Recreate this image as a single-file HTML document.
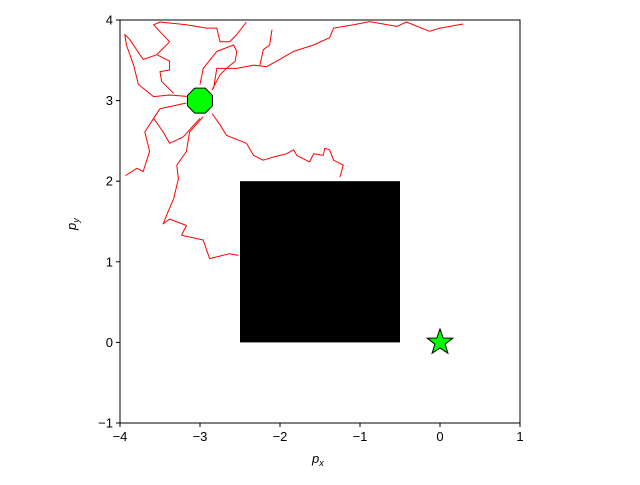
<!DOCTYPE html>
<html><head><meta charset="utf-8"><style>
body{margin:0;background:#fff;}
svg text{font-family:"Liberation Sans",sans-serif;font-size:13px;fill:#000;}
</style></head><body>
<svg id="chart" width="640" height="480"></svg>
<script>
const xTicks=[-4,-3,-2,-1,0,1];
const yTicks=[-1,0,1,2,3,4];
const walkX=[-2.83,-2.79,-2.54,-2.33,-2.17,-2.04,-1.83,-1.58,-1.38,-1.33,-1.08,-0.88,-0.54,-0.42,-0.13,0.0,0.29,null,
-2.25,-2.21,-2.13,-2.10,null,
-2.85,-2.75,-2.67,-2.42,-2.33,-2.21,-2.08,-1.92,-1.83,-1.79,-1.63,-1.58,-1.46,-1.44,-1.38,-1.33,-1.21,-1.25,null,
-2.96,-3.13,-3.17,-3.29,-3.27,-3.33,-3.40,-3.46,-3.38,-3.17,-3.23,-2.96,-2.88,-2.63,-2.52,null,
-3.17,-3.5,-3.58,-3.69,-3.63,-3.71,-3.79,-3.93,null,
-3.58,-3.46,-3.38,-3.21,-3.0,null,
-3.13,-3.38,-3.58,-3.77,-3.83,-3.92,-3.94,-3.88,-3.71,-3.54,-3.38,-3.38,-3.5,-3.48,-3.33,null,
-3.54,-3.5,-3.38,-3.58,-3.5,-3.17,-2.92,-2.79,-2.75,-2.63,-2.54,-2.42,null,
-3.0,-2.96,-2.79,-2.58,-2.54,-2.56,-2.67,-2.75,-2.85];
const walkY=[3.15,3.40,3.40,3.44,3.42,3.49,3.61,3.69,3.78,3.90,3.94,3.98,3.92,3.975,3.86,3.90,3.95,null,
3.44,3.63,3.69,3.88,null,
2.84,2.70,2.57,2.47,2.32,2.26,2.30,2.34,2.39,2.32,2.24,2.34,2.32,2.41,2.39,2.26,2.20,2.05,null,
2.80,2.61,2.37,2.20,2.03,1.78,1.62,1.47,1.53,1.45,1.33,1.27,1.04,1.10,1.08,null,
2.97,2.90,2.78,2.61,2.37,2.12,2.16,2.07,null,
2.78,2.61,2.47,2.55,2.78,null,
3.05,3.07,3.05,3.20,3.44,3.69,3.82,3.76,3.51,3.57,3.49,3.38,3.36,3.24,3.09,null,
3.57,3.61,3.73,3.94,3.975,3.94,3.90,3.90,3.73,3.73,3.82,3.975,null,
3.20,3.40,3.61,3.69,3.61,3.49,3.40,3.32,3.13];
const obstacle=[-2.5,0,-0.5,2]; // x0,y0,x1,y1
const startPt=[-3,3];
const goalPt=[0,0];

const L=120,R=520,T=20,B=423;
const sx=v=>L+(v-(-4))/5*(R-L);
const sy=v=>B-(v-(-1))/5*(B-T);
const NS="http://www.w3.org/2000/svg";
const svg=document.getElementById('chart');
function mk(t,a){const e=document.createElementNS(NS,t);for(const k in a)e.setAttribute(k,a[k]);svg.appendChild(e);return e;}

// walk
let d="",pen=false;
for(let i=0;i<walkX.length;i++){
  if(walkX[i]===null){pen=false;continue;}
  d+=(pen?"L":"M")+sx(walkX[i]).toFixed(1)+" "+sy(walkY[i]).toFixed(1)+" ";pen=true;
}
const w=mk('path',{d:d,fill:'none',stroke:'#ff0000','stroke-width':1,'stroke-linejoin':'round'});



const ob=mk('rect',{x:sx(obstacle[0]),y:sy(obstacle[3]),width:sx(obstacle[2])-sx(obstacle[0]),height:sy(obstacle[1])-sy(obstacle[3]),fill:'#000'});



// octagon start
const cx=sx(startPt[0]),cy=sy(startPt[1]),r=13.5;let op=[];
for(let k=0;k<8;k++){const a=Math.PI/8+k*Math.PI/4;op.push((cx+r*Math.cos(a)).toFixed(1)+","+(cy+r*Math.sin(a)).toFixed(1));}
const oc=mk('polygon',{points:op.join(" "),fill:'#00ff00',stroke:'#000','stroke-width':1});



// star goal
const gx=sx(goalPt[0]),gy=sy(goalPt[1]);let sp=[];
for(let k=0;k<10;k++){const a=-Math.PI/2+k*Math.PI/5;const rr=k%2?5.5:13.5;sp.push((gx+rr*Math.cos(a)).toFixed(1)+","+(gy+rr*Math.sin(a)).toFixed(1));}
const st=mk('polygon',{points:sp.join(" "),fill:'#00ff00',stroke:'#000','stroke-width':1});



// frame
const fr=mk('rect',{x:L,y:T,width:R-L,height:B-T,fill:'none',stroke:'#000','stroke-width':1});



xTicks.forEach(v=>{
  const x=sx(v);
  const tk=mk('line',{x1:x,x2:x,y1:B,y2:B+4,stroke:'#000'});
  
  
  const t=mk('text',{x:x,y:B+18,'text-anchor':'middle'});t.textContent=(v<0?"\u2212"+(-v):v);
  
  
});
yTicks.forEach(v=>{
  const y=sy(v);
  const tk=mk('line',{x1:L-4,x2:L,y1:y,y2:y,stroke:'#000'});
  
  
  const t=mk('text',{x:L-7,y:y+4.5,'text-anchor':'end'});t.textContent=(v<0?"\u2212"+(-v):v);
  
  
});
</script>
<svg width="640" height="480" style="position:absolute;left:0;top:0;pointer-events:none">
<text x="312" y="463" font-family="Liberation Sans, sans-serif" font-size="13" font-style="italic">p<tspan font-size="9" dy="3">x</tspan></text>
<text transform="translate(76,230) rotate(-90)" font-family="Liberation Sans, sans-serif" font-size="13" font-style="italic">p<tspan font-size="9" dy="3">y</tspan></text>
</svg>
</body></html>
